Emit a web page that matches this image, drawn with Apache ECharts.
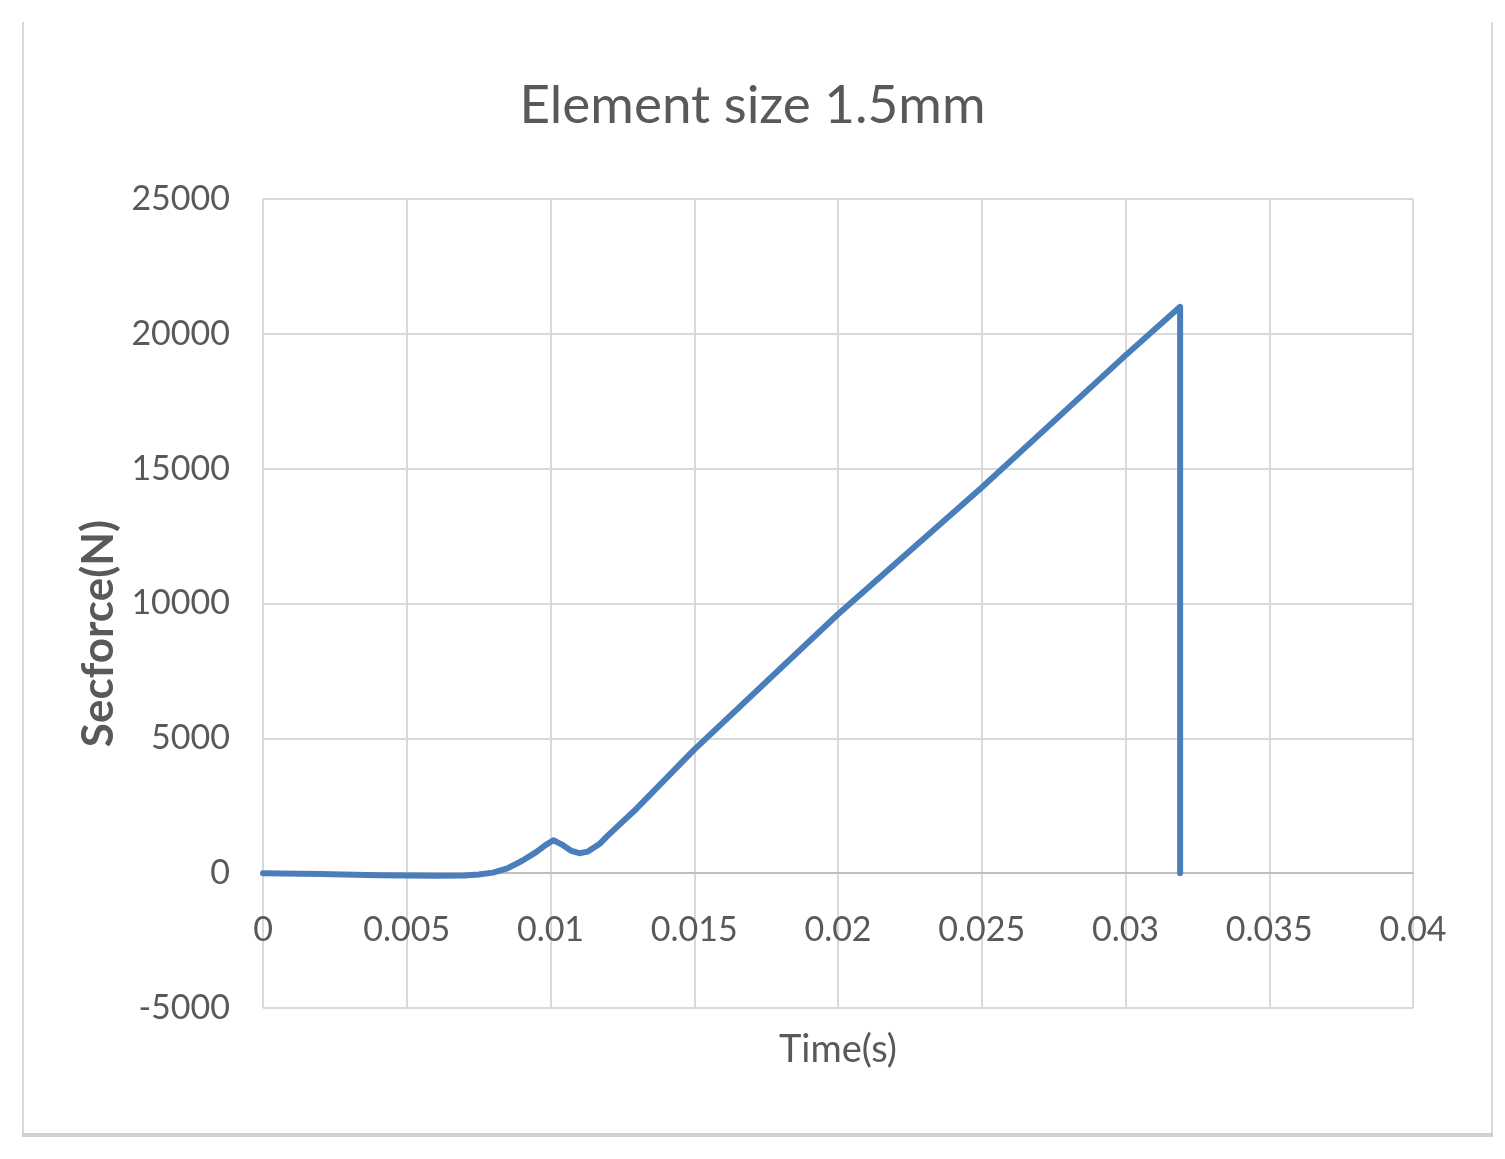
<!DOCTYPE html>
<html>
<head>
<meta charset="utf-8">
<title>Element size 1.5mm</title>
<script src="https://cdn.jsdelivr.net/npm/echarts@6/dist/echarts.min.js"></script>
<style>
  html, body { margin: 0; padding: 0; background: #fff; }
  #main { width: 1505px; height: 1159px; }
</style>
</head>
<body>
<div id="main"></div>
<script>
// time (s) and section force (N)
const times = [0, 0.002, 0.004, 0.006, 0.007, 0.0075, 0.008, 0.0085, 0.009, 0.0095, 0.0098, 0.0101,
  0.0104, 0.0107, 0.011, 0.0113, 0.0117, 0.012, 0.013, 0.015, 0.02, 0.025, 0.03, 0.0319, 0.0319]
const forces = [0, -30, -80, -100, -90, -50, 20, 180, 450, 780, 1020, 1220,
  1060, 840, 740, 800, 1080, 1400, 2400, 4580, 9600, 14300, 19200, 21000, 0]
const yTicks = [-5000, 0, 5000, 10000, 15000, 20000, 25000]
const xTicks = [0, 0.005, 0.01, 0.015, 0.02, 0.025, 0.03, 0.035, 0.04]

const font = 'Lato, "Open Sans", sans-serif'
const grey = '#595959'

const chart = echarts.init(document.getElementById('main'))
chart.setOption({
  animation: false,
  backgroundColor: '#fff',
  title: {
    text: 'Element size 1.5mm',
    left: 'center',
    top: 74,
    textStyle: { fontFamily: font, fontSize: 53, fontWeight: 'normal', color: grey }
  },
  grid: { left: 263, right: 92, top: 199, bottom: 151, outerBoundsMode: 'none', containLabel: false },
  xAxis: {
    type: 'value',
    min: xTicks[0],
    max: xTicks[xTicks.length - 1],
    interval: 0.005,
    name: 'Time(s)',
    nameLocation: 'middle',
    nameGap: 158,
    nameTextStyle: { fontFamily: font, fontSize: 38, color: grey },
    position: 'bottom',
    // axis sits on the zero line: 5000 N below zero = 135 px
    offset: -135,
    axisLine: { onZero: false, lineStyle: { color: '#bfbfbf', width: 2 } },
    axisTick: { show: false },
    axisLabel: {
      margin: 40,
      fontFamily: font, fontSize: 34, color: grey,
      formatter: v => String(+v.toFixed(3))
    },
    splitLine: { show: true, lineStyle: { color: '#d9d9d9', width: 2 } }
  },
  yAxis: {
    type: 'value',
    min: yTicks[0],
    max: yTicks[yTicks.length - 1],
    interval: 5000,
    name: 'Secforce(N)',
    nameLocation: 'middle',
    nameGap: 138,
    nameTextStyle: {
      fontFamily: font, fontSize: 44, fontWeight: 'bold', color: grey,
      padding: [0, 60, 0, 0]
    },
    axisLine: { show: false },
    axisTick: { show: false },
    axisLabel: { margin: 33, fontFamily: font, fontSize: 34, color: grey, formatter: v => String(v) },
    splitLine: { show: true, lineStyle: { color: '#d9d9d9', width: 2 } }
  },
  series: [{
    type: 'line',
    data: times.map((t, i) => [t, forces[i]]),
    showSymbol: false,
    smooth: false,
    lineStyle: { color: '#4a7ebb', width: 6, cap: 'round', join: 'round' }
  }],
  graphic: [
    { type: 'line', shape: { x1: 23, y1: 22, x2: 23, y2: 1136 }, style: { stroke: '#d9d9d9', lineWidth: 2 } },
    { type: 'line', shape: { x1: 1492, y1: 22, x2: 1492, y2: 1136 }, style: { stroke: '#d9d9d9', lineWidth: 2 } },
    { type: 'line', shape: { x1: 22, y1: 1135, x2: 1493, y2: 1135 }, style: { stroke: '#d0d0d0', lineWidth: 4 } }
  ]
})
</script>
</body>
</html>
